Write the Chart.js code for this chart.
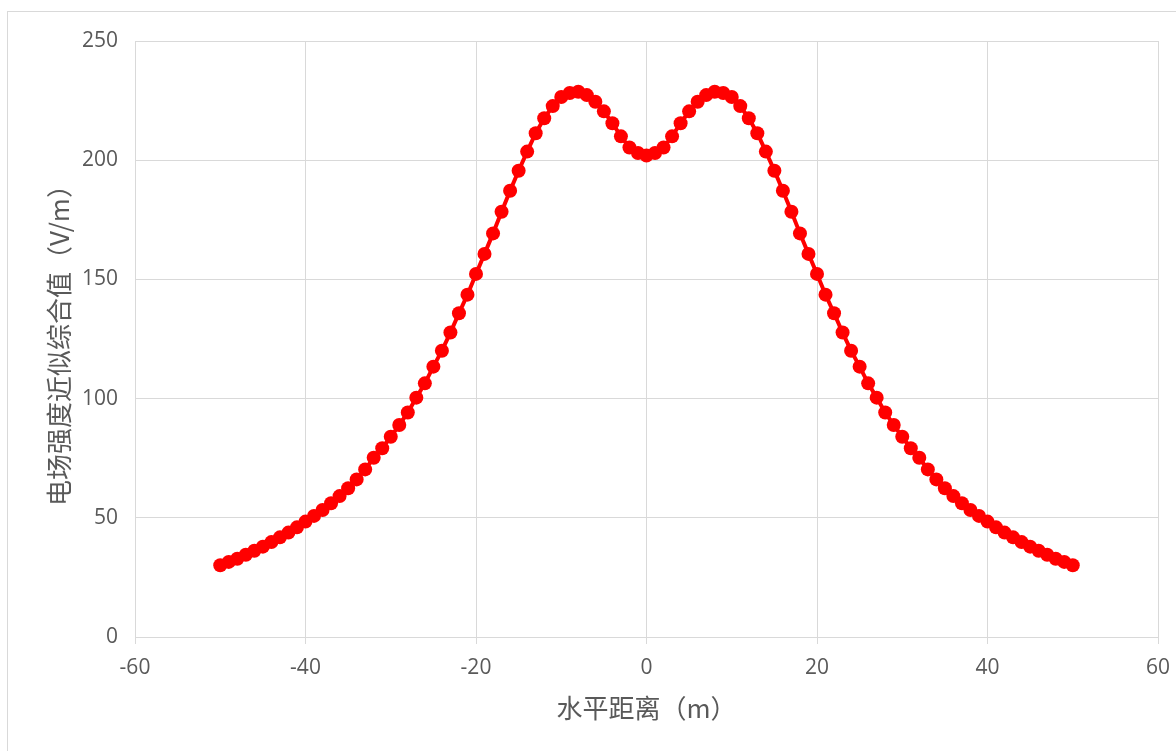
<!DOCTYPE html>
<html lang="zh">
<head>
  <meta charset="UTF-8" />
  <title>电场强度近似综合值</title>
  <script src="https://cdn.jsdelivr.net/npm/chart.js"></script>
  <style>
    html, body { margin: 0; padding: 0; background: #fff; }
    #wrap { position: relative; width: 1176px; height: 751px; overflow: hidden; }
    #frame { position: absolute; left: 7px; top: 11px; width: 1200px; height: 800px; border: 1px solid #d9d9d9; box-sizing: border-box; }
    #chart { position: absolute; left: 0; top: 0; }
  </style>
</head>
<body>
  <div id="wrap">
    <div id="frame"></div>
    <canvas id="chart" width="1176" height="751"></canvas>
  </div>

  <script>
    // 水平距离 (m)
    const distances = [
      -50, -49, -48, -47, -46, -45, -44, -43, -42, -41,
      -40, -39, -38, -37, -36, -35, -34, -33, -32, -31,
      -30, -29, -28, -27, -26, -25, -24, -23, -22, -21,
      -20, -19, -18, -17, -16, -15, -14, -13, -12, -11,
      -10, -9, -8, -7, -6, -5, -4, -3, -2, -1,
      0,
      1, 2, 3, 4, 5, 6, 7, 8, 9, 10,
      11, 12, 13, 14, 15, 16, 17, 18, 19, 20,
      21, 22, 23, 24, 25, 26, 27, 28, 29, 30,
      31, 32, 33, 34, 35, 36, 37, 38, 39, 40,
      41, 42, 43, 44, 45, 46, 47, 48, 49, 50
    ];

    // 电场强度近似综合值 (V/m)
    const fieldValues = [
      30.1, 31.5, 32.8, 34.5, 36.2, 37.9, 39.8, 41.8, 43.8, 46.0,
      48.4, 50.8, 53.3, 56.1, 59.1, 62.4, 66.1, 70.3, 75.2, 79.2,
      84.0, 88.9, 94.2, 100.4, 106.4, 113.4, 120.1, 127.7, 135.8, 143.6,
      152.3, 160.7, 169.3, 178.4, 187.2, 195.6, 203.6, 211.3, 217.6, 222.7,
      226.5, 228.2, 228.7, 227.3, 224.5, 220.5, 215.5, 210.0, 205.3, 203.0,
      202.0,
      203.0, 205.3, 210.0, 215.5, 220.5, 224.5, 227.3, 228.7, 228.2, 226.5,
      222.7, 217.6, 211.3, 203.6, 195.6, 187.2, 178.4, 169.3, 160.7, 152.3,
      143.6, 135.8, 127.7, 120.1, 113.4, 106.4, 100.4, 94.2, 88.9, 84.0,
      79.2, 75.2, 70.3, 66.1, 62.4, 59.1, 56.1, 53.3, 50.8, 48.4,
      46.0, 43.8, 41.8, 39.8, 37.9, 36.2, 34.5, 32.8, 31.5, 30.1
    ];

    const xTicks = [-60, -40, -20, 0, 20, 40, 60];
    const yTicks = [0, 50, 100, 150, 200, 250];

    const gridColor = '#d9d9d9';
    const textColor = '#595959';
    const tickFont = { family: '"Open Sans", "Noto Sans", sans-serif', size: 21 };
    const titleFont = { family: '"Noto Sans CJK SC", sans-serif', size: 26 };

    const points = distances.map((d, i) => ({ x: d, y: fieldValues[i] }));

    new Chart(document.getElementById('chart'), {
      type: 'scatter',
      data: {
        datasets: [{
          data: points,
          showLine: true,
          borderColor: '#ff0000',
          borderWidth: 4,
          backgroundColor: '#ff0000',
          pointRadius: 7,
          pointBorderWidth: 0,
          pointBackgroundColor: '#ff0000',
          tension: 0
        }]
      },
      options: {
        responsive: false,
        animation: false,
        layout: { padding: { left: 0, top: 41, right: 18, bottom: 0 } },
        plugins: {
          legend: { display: false },
          tooltip: { enabled: false }
        },
        scales: {
          x: {
            type: 'linear',
            min: -60,
            max: 60,
            afterBuildTicks: s => { s.ticks = xTicks.map(v => ({ value: v })); },
            afterFit: s => {
              s.height = 114;
              s.paddingLeft = 0;
              s.paddingRight = 0;
            },
            grid: { color: gridColor, lineWidth: 1, drawTicks: true, tickLength: 7, tickColor: gridColor },
            border: { color: gridColor, width: 1 },
            ticks: { color: textColor, font: tickFont, padding: 11, maxRotation: 0 },
            title: {
              display: true,
              text: '水平距离（m）',
              color: textColor,
              font: titleFont,
              padding: { top: 0, bottom: 27 }
            }
          },
          y: {
            type: 'linear',
            min: 0,
            max: 250,
            afterBuildTicks: s => { s.ticks = yTicks.map(v => ({ value: v })); },
            afterFit: s => {
              s.width = 135;
              s.paddingTop = 0;
              s.paddingBottom = 0;
            },
            grid: { color: gridColor, lineWidth: 1, drawTicks: false },
            border: { color: gridColor, width: 1 },
            ticks: { color: textColor, font: tickFont, padding: 17 },
            title: {
              display: true,
              text: '电场强度近似综合值（V/m）',
              color: textColor,
              font: titleFont,
              padding: { top: 44, bottom: 0 }
            }
          }
        }
      }
    });
  </script>
</body>
</html>
